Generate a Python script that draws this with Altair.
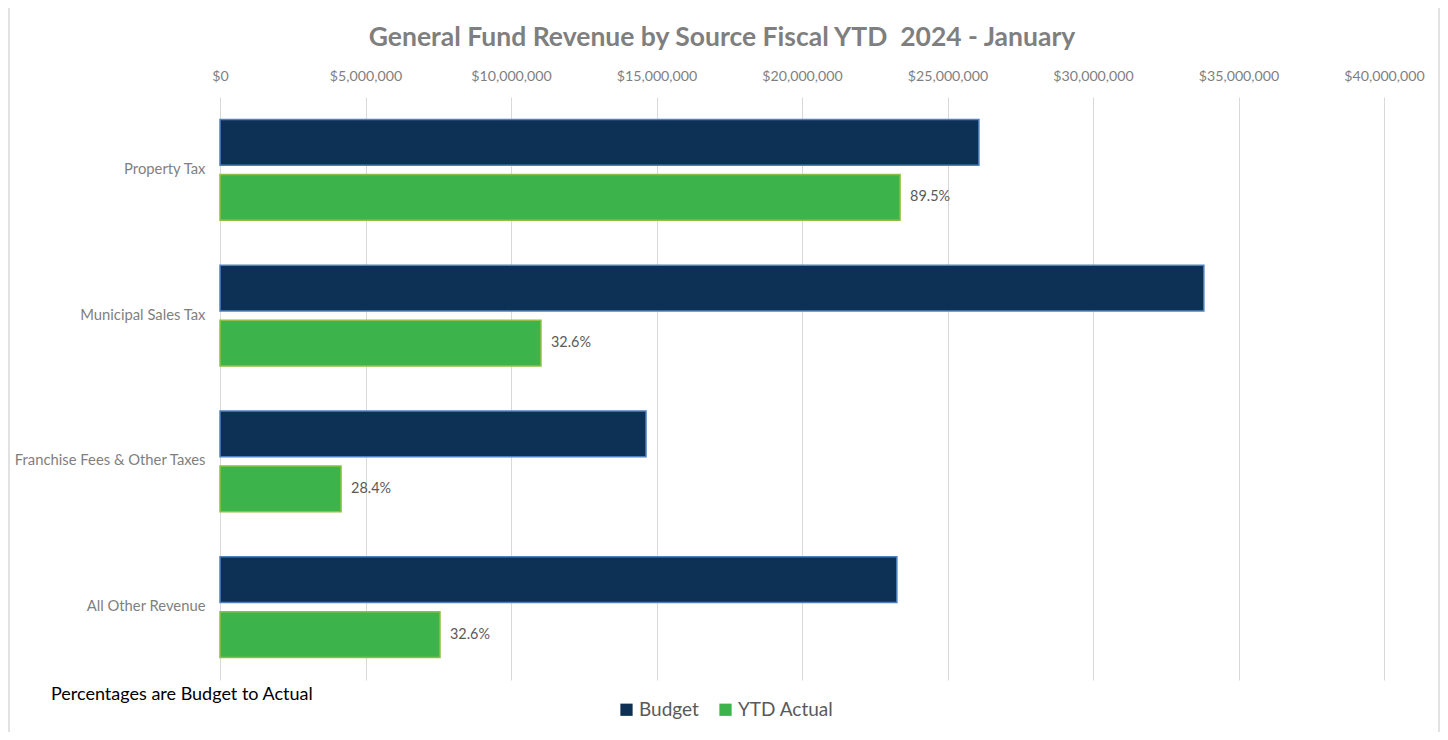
import altair as alt
import pandas as pd

categories = ["Property Tax", "Municipal Sales Tax", "Franchise Fees & Other Taxes", "All Other Revenue"]
budget = [26080000, 33810000, 14640000, 23260000]
ytd_actual = [23370000, 11030000, 4160000, 7560000]
pct_labels = ["89.5%", "32.6%", "28.4%", "32.6%"]
series = ["Budget", "YTD Actual"]
x_ticks = [0, 5000000, 10000000, 15000000, 20000000, 25000000, 30000000, 35000000, 40000000]
title_text = "General Fund Revenue by Source Fiscal YTD \u00a02024 - January"
note_text = "Percentages are Budget to Actual"

rows = []
for c, b, a, p in zip(categories, budget, ytd_actual, pct_labels):
    rows.append({"Category": c, "Series": "Budget", "Value": b, "Label": ""})
    rows.append({"Category": c, "Series": "YTD Actual", "Value": a, "Label": p})
df = pd.DataFrame(rows)

FONT = "Lato"
W, H = 1164, 583

y_enc = alt.Y("Category:N", sort=categories,
              scale=alt.Scale(paddingInner=0.31, paddingOuter=0.155),
              axis=alt.Axis(title=None, ticks=False, domain=False, labelPadding=15,
                            labelFontSize=14.8, labelColor="#7f7f7f", labelFont=FONT,
                            labelLimit=400))
yoff_enc = alt.YOffset("Series:N", sort=series, scale=alt.Scale(paddingInner=0.17, paddingOuter=0))
x_enc = alt.X("Value:Q", scale=alt.Scale(domain=[0, 40000000], nice=False),
              axis=alt.Axis(orient="top", title=None, values=x_ticks, format="$,.0f",
                            ticks=False, domain=False, labelPadding=14, labelFontSize=14.2,
                            labelFlush=False,
                            labelColor="#7f7f7f", labelFont=FONT, gridColor="#d9d9d9",
                            gridWidth=1))

bars = alt.Chart(df).mark_bar(strokeWidth=1.5).encode(
    x=x_enc,
    y=y_enc,
    yOffset=yoff_enc,
    color=alt.Color("Series:N", sort=series,
                    scale=alt.Scale(domain=series, range=["#0c3155", "#3cb44b"]),
                    legend=alt.Legend(title=None, orient="none", direction="horizontal",
                                      legendX=397, legendY=603, symbolType="square",
                                      symbolSize=150, labelFontSize=19, labelColor="#595959",
                                      labelFont=FONT, columnPadding=17, labelOffset=3,
                                      symbolStrokeWidth=0)),
    stroke=alt.Stroke("Series:N", sort=series,
                      scale=alt.Scale(domain=series, range=["#4f81bd", "#8fbf45"]),
                      legend=None),
)

labels = alt.Chart(df).transform_filter(alt.datum.Series == "YTD Actual").mark_text(
    align="left", baseline="middle", dx=10, fontSize=14.4, color="#595959", font=FONT
).encode(
    x=alt.X("Value:Q"),
    y=alt.Y("Category:N", sort=categories),
    yOffset=alt.YOffset("Series:N", sort=series),
    text="Label:N",
)

note = alt.Chart(pd.DataFrame({"t": [note_text]})).mark_text(
    align="left", baseline="middle", fontSize=18, color="#000000", font=FONT
).encode(x=alt.value(-169), y=alt.value(598), text="t:N")

title = alt.Chart(pd.DataFrame({"t": [title_text]})).mark_text(
    align="center", baseline="middle", fontSize=26.5, fontWeight="bold", color="#7f7f7f", font=FONT
).encode(x=alt.value(502), y=alt.value(-59), text="t:N")

border = alt.Chart(pd.DataFrame({"a": [0]})).mark_rect(
    fill=None, stroke="#d9d9d9", strokeWidth=1.5
).encode(x=alt.value(-211), x2=alt.value(1219), y=alt.value(-90), y2=alt.value(660))

chart = alt.layer(border, bars, labels, note, title).properties(
    width=W, height=H,
    autosize=alt.AutoSizeParams(type="none"),
    padding={"left": 212, "top": 89, "right": 56, "bottom": 52},
).configure_view(stroke=None).configure_axisY(grid=False)

chart.save("out.html", embed_options={"renderer": "svg", "actions": False})
